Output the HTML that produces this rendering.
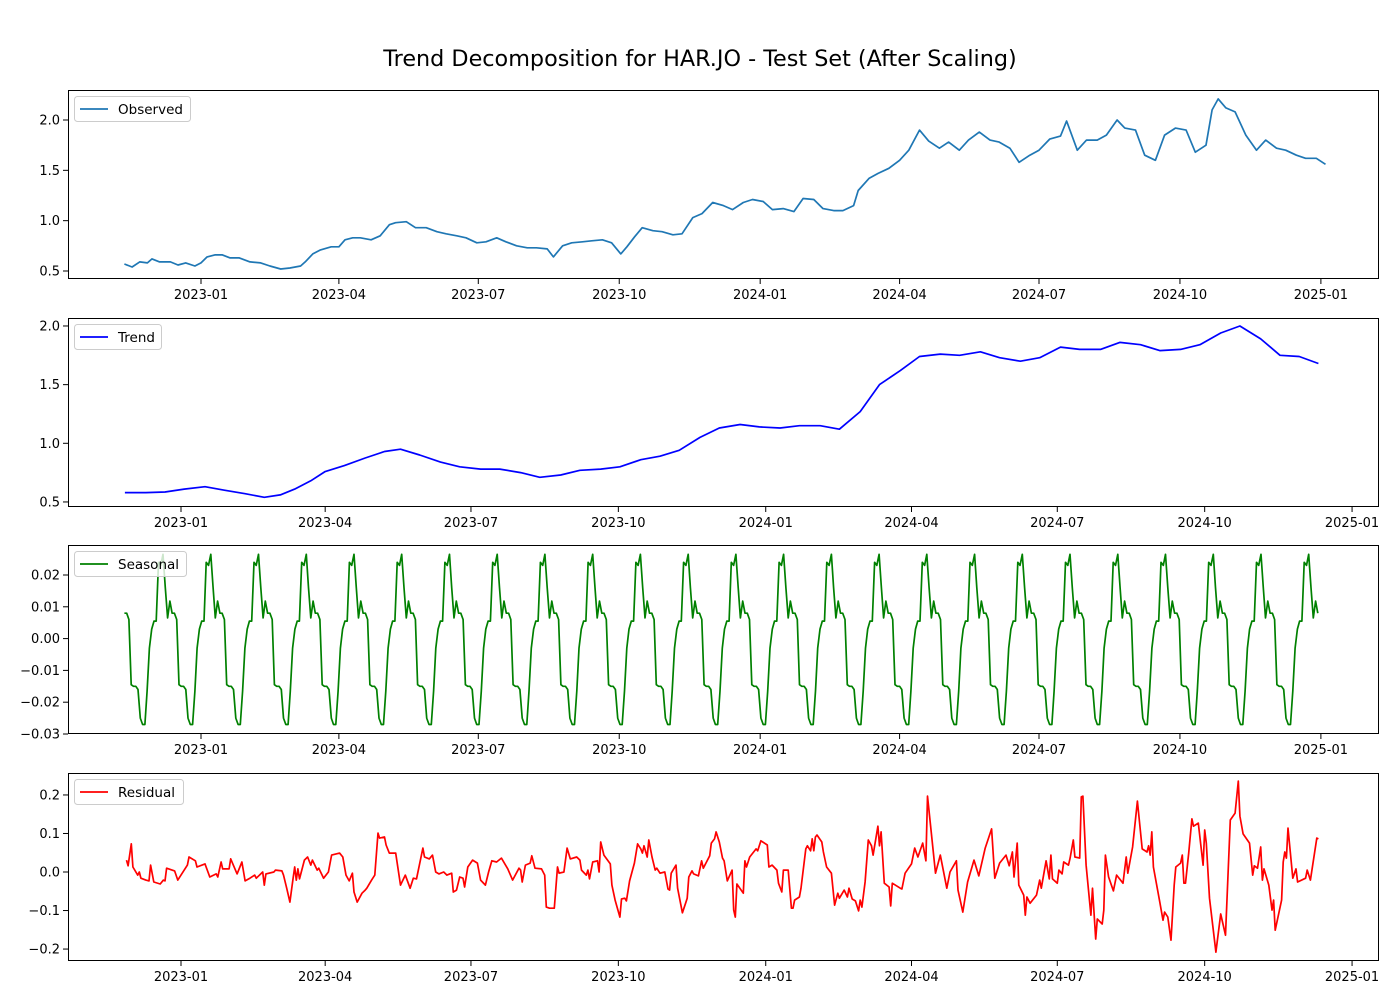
<!DOCTYPE html>
<html><head><meta charset="utf-8"><style>
html,body{margin:0;padding:0;background:#fff;}
svg text{font-family:"DejaVu Sans","Liberation Sans",sans-serif;}
</style></head><body>
<svg id="chart" xmlns="http://www.w3.org/2000/svg" width="1400" height="1000" viewBox="0 0 1400 1000">
<rect width="1400" height="1000" fill="#fff"/>
<text x="700" y="66" text-anchor="middle" font-size="22.3" fill="#000">Trend Decomposition for HAR.JO - Test Set (After Scaling)</text>
</svg>
<script>
// ---- data (days relative to 2023-01-01) ----
const obsStartDay = -50;
const obsDays = [0,5,10,15,18,23,30,35,40,46,50,54,59,64,69,75,82,89,95,102,108,115,118,123,128,135,140,144,149,154,161,167,173,177,184,190,197,204,210,217,223,230,236,243,249,256,263,269,276,280,286,292,299,305,312,318,324,328,333,338,345,351,358,364,371,377,384,391,397,404,410,417,423,430,437,443,450,456,463,469,476,479,486,492,499,506,512,519,525,532,538,545,551,558,565,571,578,584,591,597,604,611,615,622,628,635,641,648,653,660,666,673,679,686,693,699,706,710,714,719,725,732,739,745,752,758,765,771,778,784];
const obsValues = [0.57,0.54,0.59,0.58,0.62,0.59,0.59,0.56,0.58,0.55,0.58,0.64,0.66,0.66,0.63,0.63,0.59,0.58,0.55,0.52,0.53,0.55,0.59,0.67,0.71,0.74,0.74,0.81,0.83,0.83,0.81,0.85,0.96,0.98,0.99,0.93,0.93,0.89,0.87,0.85,0.83,0.78,0.79,0.83,0.79,0.75,0.73,0.73,0.72,0.64,0.75,0.78,0.79,0.80,0.81,0.78,0.67,0.74,0.84,0.93,0.90,0.89,0.86,0.87,1.03,1.07,1.18,1.15,1.11,1.18,1.21,1.19,1.11,1.12,1.09,1.22,1.21,1.12,1.10,1.10,1.15,1.30,1.42,1.47,1.52,1.60,1.70,1.90,1.79,1.72,1.78,1.70,1.80,1.88,1.80,1.78,1.72,1.58,1.65,1.70,1.81,1.84,1.99,1.70,1.80,1.80,1.85,2.00,1.92,1.90,1.65,1.60,1.85,1.92,1.90,1.68,1.75,2.10,2.21,2.12,2.08,1.85,1.70,1.80,1.72,1.70,1.65,1.62,1.62,1.56];

const trendDays = [-35,-22,-10,2,15,27,40,52,62,71,81,90,102,115,127,137,149,162,174,187,199,212,224,237,249,262,274,287,299,311,324,336,349,361,374,386,399,411,424,436,449,461,474,486,499,511,524,536,549,561,574,586,599,611,624,636,649,661,674,686,698,710];
const trendValues = [0.58,0.58,0.585,0.61,0.63,0.60,0.57,0.54,0.56,0.61,0.68,0.76,0.81,0.875,0.93,0.95,0.90,0.84,0.80,0.78,0.78,0.75,0.71,0.73,0.77,0.78,0.80,0.86,0.89,0.94,1.05,1.13,1.16,1.14,1.13,1.15,1.15,1.12,1.27,1.50,1.62,1.74,1.76,1.75,1.78,1.73,1.70,1.73,1.82,1.80,1.80,1.86,1.84,1.79,1.80,1.84,1.94,2.00,1.89,1.75,1.74,1.68];

const seasonalPattern = [-0.027,-0.0165,-0.003,0.003,0.0055,0.0055,0.024,0.023,0.0265,0.016,0.0065,0.0118,0.008,0.008,0.006,-0.0145,-0.015,-0.015,-0.016,-0.025,-0.027];
const seasonalStartPhase = 12;
const seasonalCount = 526;
const seasonalStartDay = -50;
const seasonalEndDay = 729;

const residDays = [-34,-33,-31,-30,-27,-26,-25,-22,-20,-19,-17,-13,-11,-10,-9,-4,-2,4,5,9,10,15,18,22,23,25,26,30,31,35,38,40,43,46,47,51,52,53,58,59,63,64,66,68,70,71,72,73,74,77,79,81,82,85,86,89,92,94,99,101,103,105,107,108,110,113,115,116,119,121,123,124,127,128,130,134,137,140,143,145,147,151,152,155,157,159,161,164,166,169,170,172,174,176,177,179,182,185,187,190,192,194,197,200,204,207,211,
212,213,215,218,219,221,225,227,228,230,233,235,236,239,241,243,247,249,250,253,254,255,257,260,261,262,264,268,269,271,274,275,277,278,280,283,285,287,288,289,291,292,294,296,297,299,302,304,305,306,309,310,313,315,316,317,319,320,323,325,326,328,330,331,333,334,336,338,339,341,344,345,346,347,351,352,353,355,359,360,362,366,367,369,372,373,375,376,379,381,382,383,386,387,390,391,393,394,395,396,397,400,401,403,406,408,410,411,414,416,417,419,421,423,424,425,427,429,431,432,435,436,437,439,442,443,444,449,450,452,456,458,460,463,465,
466,471,474,478,480,484,485,488,491,495,498,502,506,508,511,515,517,519,520,522,523,526,527,528,530,534,536,537,540,542,543,544,547,548,550,551,554,555,557,558,561,562,563,565,568,569,571,572,575,576,577,579,582,584,588,590,591,594,597,600,603,604,605,606,607,611,613,614,616,618,620,621,624,625,626,627,629,631,632,635,638,639,640,642,646,649,652,655,658,660,661,663,667,669,670,672,674,675,676,679,681,682,683,687,688,689,690,691,694,696,697,702,703,705,709,710];
const residValues = [0.031,0.016,0.073,0.013,-0.008,0,-0.016,-0.021,-0.023,0.018,-0.026,-0.031,-0.021,-0.023,0.010,0.003,-0.021,0.018,0.039,0.029,0.013,0.021,-0.013,-0.005,-0.013,0.026,0.008,0.008,0.034,-0.005,0.026,-0.023,-0.016,-0.008,-0.016,0,-0.034,-0.005,0,0.005,0.003,-0.008,-0.042,-0.078,-0.016,0.013,-0.021,0.008,-0.018,0.031,0.039,0.018,0.031,0.005,0.010,-0.016,0,0.044,0.049,0.039,-0.008,-0.023,-0.003,-0.052,-0.078,-0.055,-0.047,-0.042,-0.021,-0.008,0.101,0.088,0.091,0.070,0.049,0.049,-0.034,-0.008,-0.042,-0.016,-0.018,0.062,0.039,0.034,0.044,0,-0.005,0,-0.008,-0.003,-0.052,-0.047,-0.013,-0.016,-0.039,0.013,0.031,0.023,-0.021,-0.034,0,0.029,0.026,0.036,0.008,-0.021,0.010,
0.005,-0.026,0.018,0.023,0.042,0.010,0.008,-0.008,-0.091,-0.094,-0.094,0.013,-0.003,0,0.062,0.034,0.039,0.031,0.005,-0.008,0.005,-0.018,0.026,0.029,0,0.078,0.044,0.021,-0.034,-0.073,-0.117,-0.070,-0.068,-0.075,-0.023,0.023,0.073,0.060,0.049,0.068,0.039,0.083,0.039,0.005,0.010,-0.003,0,-0.044,-0.047,-0.003,0.018,-0.042,-0.106,-0.081,-0.068,-0.013,0.003,-0.005,-0.010,0.029,0.010,0.026,0.042,0.075,0.086,0.104,0.078,0.036,0.029,-0.023,0.005,-0.099,-0.117,-0.031,-0.055,0.029,0.013,0.039,0.060,0.055,0.081,0.070,0.013,0.018,0.005,-0.029,-0.052,0.005,0.005,-0.094,-0.094,-0.073,-0.065,-0.042,0.060,0.068,0.055,0.086,0.055,0.091,0.096,0.078,0.052,0.013,-0.003,-0.086,-0.055,-0.068,-0.047,-0.065,-0.042,-0.070,-0.075,-0.101,-0.073,-0.091,-0.026,0.083,0.068,0.044,0.119,0.068,0.104,-0.029,-0.039,-0.088,-0.029,-0.042,-0.044,-0.003,0.021,0.062,0.039,0.075,0.029,
0.197,-0.003,0.044,-0.042,0,0.029,-0.047,-0.104,-0.026,0.031,-0.010,0.062,0.112,-0.016,0.023,0.044,0.016,0.052,-0.013,0.075,-0.034,-0.060,-0.112,-0.065,-0.081,-0.060,-0.021,-0.042,0.029,-0.018,0.044,-0.018,-0.029,0.005,-0.005,0.026,0.018,0.036,0.083,0.039,0.036,0.195,0.197,0.018,-0.112,-0.042,-0.174,-0.122,-0.135,-0.099,0.044,-0.013,-0.049,-0.008,-0.029,0.039,-0.003,0.065,0.184,0.060,0.052,0.068,0.044,0.104,0.013,-0.078,-0.125,-0.104,-0.117,-0.177,-0.034,0.013,0.023,0.044,-0.029,-0.029,0.049,0.138,0.119,0.127,0.018,0.109,0.075,-0.068,-0.208,-0.109,-0.164,0.135,0.153,0.236,0.145,0.099,0.075,-0.008,0.016,0.010,0.065,-0.021,0.008,-0.034,-0.099,-0.073,-0.151,-0.073,0.026,0.052,0.036,0.114,-0.016,0.008,-0.026,-0.016,0.005,-0.021,0.088,0.086];

const dateTicks = [0,90,181,273,365,456,547,639,731];
const dateTickLabels = ["2023-01","2023-04","2023-07","2023-10","2024-01","2024-04","2024-07","2024-10","2025-01"];
const obsYTicks = [0.5,1.0,1.5,2.0];
const obsYLabels = ["0.5","1.0","1.5","2.0"];
const trendYTicks = [0.5,1.0,1.5,2.0];
const trendYLabels = ["0.5","1.0","1.5","2.0"];
const seasYTicks = [-0.03,-0.02,-0.01,0,0.01,0.02];
const seasYLabels = ["−0.03","−0.02","−0.01","0.00","0.01","0.02"];
const residYTicks = [-0.2,-0.1,0,0.1,0.2];
const residYLabels = ["−0.2","−0.1","0.0","0.1","0.2"];

// ---- drawing ----
const svg = document.getElementById('chart');
const NS = 'http://www.w3.org/2000/svg';
function mk(tag, attrs, parent){
  const e = document.createElementNS(NS, tag);
  for (const k in attrs) e.setAttribute(k, attrs[k]);
  (parent||svg).appendChild(e);
  return e;
}
const L = 68, R = 1379;
function makePanel(cfg){
  const g = mk('g', {});
  
  
  const xs = d => cfg.x0 + d * cfg.xk;
  const ys = v => cfg.bot - (v - cfg.vmin) / (cfg.vmax - cfg.vmin) * (cfg.bot - cfg.top);
  let dstr = '';
  for (let i = 0; i < cfg.days.length && i < cfg.vals.length; i++) {
    dstr += (i ? 'L' : 'M') + xs(cfg.days[i]).toFixed(1) + ' ' + ys(cfg.vals[i]).toFixed(1);
  }
  const line = mk('path', {d: dstr, fill: 'none', stroke: cfg.color, 'stroke-width': 1.7, 'stroke-linejoin': 'round'}, g);
  
  
  const fr = mk('rect', {x: L + 0.5, y: cfg.top + 0.5, width: R - L - 1, height: cfg.bot - cfg.top - 1, fill: 'none', stroke: '#000', 'stroke-width': 1}, g);
  
  
  dateTicks.forEach((d, i) => {
    const x = xs(d);
    mk('line', {x1: x, x2: x, y1: cfg.bot, y2: cfg.bot + 5, stroke: '#000', 'stroke-width': 1}, g);
    const t = mk('text', {x: x, y: cfg.bot + 20, 'text-anchor': 'middle', 'font-size': 13}, g);
    
    
    t.textContent = dateTickLabels[i];
  });
  cfg.yt.forEach((v, i) => {
    const y = ys(v);
    mk('line', {x1: L - 5, x2: L, y1: y, y2: y, stroke: '#000', 'stroke-width': 1}, g);
    const t = mk('text', {x: L - 8, y: y + 4.5, 'text-anchor': 'end', 'font-size': 13}, g);
    
    
    t.textContent = cfg.yl[i];
  });
  const lg = mk('g', {}, g);
  
  
  mk('rect', {x: 74.5, y: cfg.top + 6.5, width: cfg.lw, height: 25, rx: 3, fill: '#fff', 'fill-opacity': 0.8, stroke: '#ccc'}, lg);
  mk('line', {x1: 80, x2: 108, y1: cfg.top + 19, y2: cfg.top + 19, stroke: cfg.color, 'stroke-width': 1.7}, lg);
  const lt = mk('text', {x: 118, y: cfg.top + 24, 'font-size': 13.5}, lg);
  
  
  lt.textContent = cfg.label;
}

const seasDays = [], seasVals = [];
for (let i = 0; i < seasonalCount; i++) {
  seasDays.push(seasonalStartDay + i * (seasonalEndDay - seasonalStartDay) / (seasonalCount - 1));
  seasVals.push(seasonalPattern[(seasonalStartPhase + i) % seasonalPattern.length]);
}

makePanel({name: 'observed', top: 90, bot: 279, vmin: 0.4205, vmax: 2.298, x0: 201, xk: 1.532,
  days: obsDays.map(d => d + obsStartDay), vals: obsValues, color: '#1f77b4', yt: obsYTicks, yl: obsYLabels, label: 'Observed', lw: 116});
makePanel({name: 'trend', top: 318, bot: 507, vmin: 0.457, vmax: 2.068, x0: 181, xk: 1.602,
  days: trendDays, vals: trendValues, color: '#0000ff', yt: trendYTicks, yl: trendYLabels, label: 'Trend', lw: 87});
makePanel({name: 'seasonal', top: 545, bot: 734, vmin: -0.03, vmax: 0.02943, x0: 201, xk: 1.532,
  days: seasDays, vals: seasVals, color: '#008000', yt: seasYTicks, yl: seasYLabels, label: 'Seasonal', lw: 112});
makePanel({name: 'residual', top: 773, bot: 961, vmin: -0.231, vmax: 0.257, x0: 181, xk: 1.602,
  days: residDays, vals: residValues, color: '#ff0000', yt: residYTicks, yl: residYLabels, label: 'Residual', lw: 109});
</script>
</body></html>
